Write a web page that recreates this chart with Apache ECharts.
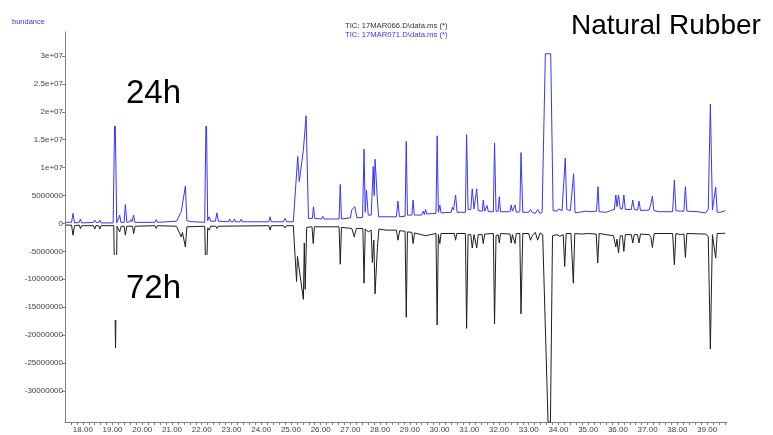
<!DOCTYPE html>
<html>
<head>
<meta charset="utf-8">
<script src="https://cdn.jsdelivr.net/npm/echarts@6/dist/echarts.min.js"></script>
<style>
html,body{margin:0;padding:0;background:#fff;}
#chart{width:773px;height:435px;}
</style>
</head>
<body>
<div id="chart"></div>
<script>
// Retention time (min) and abundance for TIC 24h (17MAR071, plotted up)
var tic24Time = [17.43,17.62,17.67,17.72,17.88,17.92,17.96,18.36,18.40,18.44,18.53,18.57,18.61,19.02,19.08,19.14,19.20,19.24,19.28,19.39,19.43,19.48,19.58,19.61,19.65,19.68,19.71,19.75,20.43,20.47,20.51,21.15,21.31,21.45,21.50,21.66,21.70,21.74,22.10,22.15,22.20,22.25,22.30,22.46,22.51,22.56,22.90,22.94,22.98,23.06,23.10,23.14,23.29,23.33,23.37,24.26,24.30,24.34,24.75,24.80,24.86,25.08,25.23,25.28,25.42,25.51,25.59,25.72,25.76,25.80,26.03,26.07,26.11,26.62,26.66,26.70,27.00,27.05,27.15,27.22,27.41,27.46,27.50,27.54,27.60,27.70,27.77,27.80,27.83,27.91,27.95,28.55,28.60,28.65,28.84,28.88,28.92,29.07,29.11,29.15,29.40,29.45,29.49,29.53,29.57,29.88,29.92,29.96,30.01,30.05,30.39,30.43,30.47,30.54,30.59,30.87,30.91,30.96,31.05,31.10,31.16,31.21,31.25,31.30,31.44,31.47,31.52,31.57,31.60,31.64,31.81,31.85,31.90,31.97,32.01,32.05,32.37,32.41,32.45,32.50,32.54,32.58,32.70,32.74,32.80,33.00,33.06,33.12,33.22,33.30,33.38,33.45,33.56,33.74,33.82,33.95,34.00,34.06,34.12,34.18,34.23,34.28,34.40,34.46,34.51,34.56,34.70,34.90,35.10,35.28,35.33,35.37,35.60,35.75,35.88,35.93,35.97,36.02,36.08,36.15,36.20,36.25,36.45,36.50,36.55,36.66,36.71,36.76,37.05,37.11,37.16,37.21,37.40,37.84,37.90,37.95,38.10,38.22,38.27,38.32,38.70,38.95,39.04,39.11,39.18,39.24,39.29,39.34,39.45,39.61];
var tic24Abundance = [0.2e6,0.2e6,1.8e6,0.1e6,0.2e6,0.8e6,0.1e6,0.2e6,0.6e6,0.2e6,0.2e6,0.6e6,0.1e6,0.1e6,2.2e7,0.1e6,0.3e6,1.5e6,0.2e6,0.2e6,3.4e6,0.2e6,0.3e6,0.7e6,0.3e6,0.3e6,1.5e6,0.2e6,0.2e6,0.7e6,0.2e6,0.4e6,2.1e6,6.7e6,0.5e6,0.3e6,0.6e6,0.3e6,0.2e6,2.2e7,0.5e6,1.2e6,0.4e6,0.4e6,1.9e6,0.4e6,0.3e6,0.8e6,0.3e6,0.3e6,0.8e6,0.3e6,0.3e6,0.8e6,0.3e6,0.3e6,1.2e6,0.3e6,0.3e6,0.9e6,0.3e6,0.3e6,1.2e7,7.5e6,1.32e7,1.93e7,0.9e6,0.9e6,3.0e6,0.9e6,0.8e6,1.3e6,0.8e6,0.8e6,7.0e6,0.8e6,1.0e6,2.5e6,3.0e6,1.0e6,1.1e6,1.33e7,2.0e6,6.0e6,1.5e6,1.5e6,1.02e7,5.0e6,1.15e7,4.2e6,1.2e6,1.2e6,4.0e6,1.2e6,1.3e6,1.47e7,1.5e6,1.5e6,4.2e6,1.5e6,1.5e6,2.2e6,1.6e6,2.5e6,1.7e6,1.8e6,1.57e7,2.0e6,3.3e6,1.9e6,2.0e6,2.9e6,2.4e6,5.1e6,2.0e6,2.0e6,1.59e7,2.5e6,2.5e6,6.2e6,2.6e6,2.6e6,6.2e6,2.3e6,2.2e6,4.2e6,2.2e6,2.2e6,3.2e6,2.1e6,2.1e6,1.44e7,2.2e6,2.2e6,4.8e6,2.1e6,2.1e6,3.3e6,2.2e6,2.2e6,3.3e6,2.0e6,2.1e6,1.27e7,2.0e6,2.0e6,2.5e6,2.0e6,1.8e6,2.5e6,1.8e6,2.0e6,3.04e7,3.04e7,2.3e6,2.2e6,2.6e6,2.7e6,2.3e6,2.5e6,1.17e7,2.5e6,2.3e6,2.5e6,8.9e6,1.9e6,2.0e6,2.2e6,2.1e6,2.2e6,6.6e6,2.1e6,2.0e6,2.3e6,2.5e6,5.1e6,3.0e6,5.1e6,2.6e6,2.6e6,5.1e6,2.5e6,2.5e6,4.2e6,2.5e6,2.4e6,4.0e6,2.3e6,2.4e6,3.5e6,4.9e6,2.3e6,2.1e6,2.1e6,7.8e6,2.3e6,2.2e6,2.2e6,6.6e6,2.2e6,2.1e6,1.9e6,2.6e6,2.14e7,2.4e6,2.6e6,6.5e6,2.0e6,2.0e6,2.3e6];

// TIC 72h (17MAR066, plotted inverted)
var tic72Time = [17.43,17.62,17.67,17.72,17.88,17.92,17.96,18.36,18.40,18.44,18.53,18.57,18.61,19.04,19.10,19.15,19.20,19.24,19.29,19.39,19.43,19.48,19.67,19.71,19.76,20.43,20.47,20.51,21.15,21.31,21.35,21.45,21.50,22.10,22.15,22.20,22.25,22.30,22.47,22.51,22.55,24.26,24.30,24.34,24.75,24.80,24.85,25.08,25.19,25.22,25.42,25.45,25.48,25.53,25.71,25.75,25.79,26.62,26.66,26.70,27.05,27.13,27.20,27.42,27.46,27.50,27.60,27.70,27.74,27.79,27.83,27.91,27.96,28.20,28.55,28.60,28.66,28.84,28.88,28.92,29.07,29.11,29.16,29.53,29.88,29.92,29.96,30.01,30.05,30.50,30.54,30.58,30.87,30.91,30.96,31.05,31.10,31.16,31.21,31.25,31.30,31.43,31.47,31.52,31.81,31.85,31.90,31.97,32.01,32.05,32.37,32.41,32.45,32.50,32.54,32.58,32.70,32.74,32.80,33.00,33.06,33.12,33.22,33.30,33.38,33.47,33.65,33.73,33.80,33.95,34.05,34.16,34.21,34.26,34.42,34.50,34.55,34.80,35.00,35.27,35.32,35.37,35.60,35.85,35.93,35.97,36.02,36.08,36.15,36.20,36.25,36.45,36.50,36.55,36.66,36.71,36.76,37.05,37.11,37.16,37.22,37.84,37.90,37.95,38.10,38.22,38.27,38.32,38.95,39.04,39.11,39.18,39.24,39.29,39.34,39.61];
var tic72Abundance = [-0.3e6,-0.3e6,-2.1e6,-0.4e6,-0.3e6,-0.9e6,-0.4e6,-0.4e6,-1.0e6,-0.4e6,-0.4e6,-1.0e6,-0.4e6,-0.4e6,-2.23e7,-0.5e6,-0.5e6,-1.5e6,-0.5e6,-0.5e6,-2.1e6,-0.5e6,-0.5e6,-1.8e6,-0.5e6,-0.4e6,-0.9e6,-0.4e6,-0.5e6,-2.4e6,-1.6e6,-4.2e6,-0.6e6,-0.5e6,-1.2e7,-0.8e6,-1.2e6,-0.5e6,-0.5e6,-0.9e6,-0.5e6,-0.4e6,-1.2e6,-0.4e6,-0.4e6,-0.8e6,-0.4e6,-0.4e6,-1.04e7,-5.9e6,-1.36e7,-3.5e6,-1.18e7,-0.7e6,-0.6e6,-3.6e6,-0.6e6,-0.6e6,-7.3e6,-0.7e6,-0.9e6,-2.4e6,-0.9e6,-0.9e6,-1.07e7,-1.0e6,-1.5e6,-1.2e6,-7.0e6,-3.0e6,-1.26e7,-4.3e6,-1.0e6,-1.2e6,-1.2e6,-3.0e6,-1.3e6,-1.4e6,-1.68e7,-1.5e6,-1.6e6,-3.6e6,-1.7e6,-2.2e6,-1.8e6,-1.82e7,-2.0e6,-3.6e6,-1.8e6,-1.8e6,-3.0e6,-1.8e6,-1.8e6,-1.88e7,-2.0e6,-2.0e6,-4.4e6,-2.0e6,-2.0e6,-4.4e6,-2.0e6,-2.0e6,-3.6e6,-1.9e6,-1.8e6,-1.8e7,-2.2e6,-2.0e6,-3.5e6,-1.8e6,-1.9e6,-3.5e6,-2.0e6,-2.0e6,-3.6e6,-1.8e6,-1.8e6,-1.62e7,-1.8e6,-1.8e6,-3.0e6,-2.2e6,-1.6e6,-3.0e6,-1.7e6,-2.0e6,-3.56e7,-3.56e7,-2.2e6,-2.0e6,-2.3e6,-2.0e6,-7.7e6,-1.8e6,-1.8e6,-1.07e7,-1.8e6,-1.9e6,-1.8e6,-1.9e6,-7.1e6,-1.8e6,-2.0e6,-2.2e6,-4.2e6,-2.8e6,-5.3e6,-2.2e6,-2.2e6,-5.0e6,-2.0e6,-2.0e6,-3.5e6,-2.0e6,-2.0e6,-3.5e6,-1.9e6,-2.0e6,-2.5e6,-4.3e6,-1.8e6,-1.8e6,-7.4e6,-1.8e6,-2.0e6,-1.9e6,-6.1e6,-1.8e6,-1.9e6,-2.3e6,-2.25e7,-2.0e6,-2.0e6,-6.2e6,-1.8e6,-1.76e6];

// Axis ticks
var xLabelValues = [18,19,20,21,22,23,24,25,26,27,28,29,30,31,32,33,34,35,36,37,38,39];
var yTickValues = [30000000,25000000,20000000,15000000,10000000,5000000,0,-5000000,-10000000,-15000000,-20000000,-25000000,-30000000];
var yTickLabels = ['3e+07','2.5e+07','2e+07','1.5e+07','1e+07','5000000','0','-5000000','-10000000','-15000000','-20000000','-25000000','-30000000'];

var seriesNames = ['TIC: 17MAR066.D\\data.ms (*)', 'TIC: 17MAR071.D\\data.ms (*)'];

function pairs(t, v) { var out = []; for (var i = 0; i < t.length; i++) out.push([t[i], v[i]]); return out; }

// minor tick positions (5 per minute) derived from the labelled ticks
var xTickValues = [];
for (var k = 0; k < xLabelValues.length; k++) {
  for (var s = -3; s < 5; s++) {
    var v = Math.round((xLabelValues[k] + s * 0.2) * 100) / 100;
    if (v > 17.4 && v < 39.67 && xTickValues.indexOf(v) < 0) xTickValues.push(v);
  }
}

var chart = echarts.init(document.getElementById('chart'), null, {renderer: 'canvas'});
var axisGray = '#808080';
var labelFont = {fontFamily: 'Liberation Sans', fontSize: 8, color: '#404040'};

chart.setOption({
  animation: false,
  backgroundColor: '#fff',
  grid: {left: 65, right: 46, top: 32, bottom: 13, containLabel: false, outerBoundsMode: 'none'},
  xAxis: {
    type: 'value', min: 17.4, max: 39.67,
    axisLine: {onZero: false, lineStyle: {color: axisGray, width: 1}},
    axisTick: {show: true, length: 3, customValues: xTickValues, lineStyle: {color: axisGray}},
    axisLabel: Object.assign({customValues: xLabelValues, margin: 4, formatter: function (v) { return v.toFixed(2); }}, labelFont),
    splitLine: {show: false}
  },
  yAxis: {
    type: 'value', min: -35570000, max: 34300000,
    axisLine: {show: true, onZero: false, lineStyle: {color: axisGray, width: 1}},
    axisTick: {show: true, length: 3, customValues: yTickValues, lineStyle: {color: axisGray}},
    axisLabel: Object.assign({customValues: yTickValues, margin: 2, formatter: function (v) {
      var i = yTickValues.indexOf(v); return i >= 0 ? yTickLabels[i] : '';
    }}, labelFont),
    splitLine: {show: false}
  },
  series: [
    {name: seriesNames[0], type: 'line', data: pairs(tic72Time, tic72Abundance), showSymbol: false, symbol: 'none',
     lineStyle: {color: '#1e1e1e', width: 1}, itemStyle: {color: '#1e1e1e'}, z: 2},
    {name: seriesNames[1], type: 'line', data: pairs(tic24Time, tic24Abundance), showSymbol: false, symbol: 'none',
     lineStyle: {color: '#3636ff', width: 1}, itemStyle: {color: '#3636ff'}, z: 3}
  ],
  graphic: [
    {type: 'text', left: 12, top: 18, z: 50, style: {text: 'bundance', fill: '#3636ff', font: '7.5px "Liberation Sans"'}},
    {type: 'text', left: 345, top: 22, z: 50, style: {text: seriesNames[0], fill: '#303030', font: '7.7px "Liberation Sans"'}},
    {type: 'text', left: 345, top: 31, z: 50, style: {text: seriesNames[1], fill: '#3636ff', font: '7.7px "Liberation Sans"'}},
    {type: 'rect', shape: {x: 105, y: 60, width: 123, height: 66}, z: 60, style: {fill: '#fff'}},
    {type: 'rect', shape: {x: 105, y: 255, width: 123, height: 65}, z: 60, style: {fill: '#fff'}},
    {type: 'text', left: 126, top: 77, z: 70, style: {text: '24h', fill: '#000', font: '33px "Liberation Sans"'}},
    {type: 'text', left: 126, top: 272, z: 70, style: {text: '72h', fill: '#000', font: '33px "Liberation Sans"'}},
    {type: 'text', left: 571, top: 12, z: 70, style: {text: 'Natural Rubber', fill: '#000', font: '28px "Liberation Sans"'}}
  ]
});
</script>
</body>
</html>
